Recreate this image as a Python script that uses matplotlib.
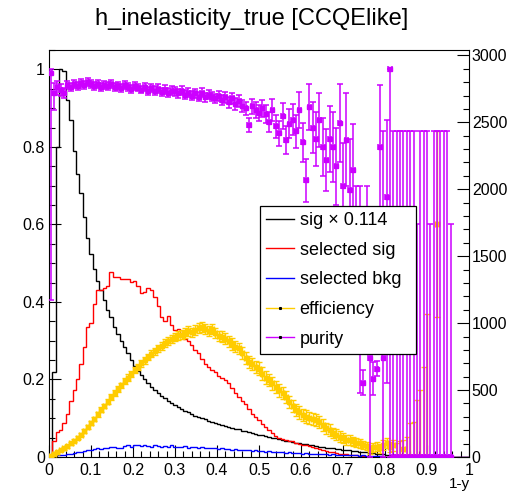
import numpy as np
import matplotlib
matplotlib.use("Agg")
import matplotlib.pyplot as plt
from matplotlib.ticker import MultipleLocator, FormatStrFormatter
from matplotlib.lines import Line2D

plt.rcParams['font.family'] = ['Liberation Sans', 'DejaVu Sans']

# 125 bins of 1-y from 0 to 1
edges = np.linspace(0.0, 1.0, 126)
centers = 0.5 * (edges[:-1] + edges[1:])
half_w = 0.5 * np.diff(edges)

# signal (scaled by 0.114), drawn on the left scale
sig = [
    0.0, 0.22, 0.80, 1.00, 0.995, 0.92, 0.87, 0.79, 0.73, 0.68,
    0.62, 0.565, 0.525, 0.485, 0.455, 0.43, 0.405, 0.38, 0.36, 0.335,
    0.318, 0.30, 0.285, 0.268, 0.25, 0.236, 0.222, 0.212, 0.20, 0.19,
    0.181, 0.173, 0.166, 0.158, 0.151, 0.145, 0.139, 0.133, 0.128, 0.124,
    0.119, 0.115, 0.111, 0.107, 0.104, 0.101, 0.097, 0.094, 0.091, 0.088,
    0.085, 0.083, 0.080, 0.078, 0.075, 0.073, 0.071, 0.068, 0.066, 0.064,
    0.062, 0.060, 0.058, 0.056, 0.054, 0.052, 0.050, 0.048, 0.046, 0.044,
    0.042, 0.040, 0.039, 0.037, 0.036, 0.034, 0.033, 0.031, 0.030, 0.028,
    0.027, 0.026, 0.024, 0.023, 0.022, 0.021, 0.020, 0.019, 0.018, 0.017,
    0.016, 0.015, 0.014, 0.013, 0.012, 0.011, 0.010, 0.009, 0.008, 0.007,
    0.005, 0.004, 0.003, 0.002, 0.002, 0.001, 0.001, 0.001, 0.001, 0.0,
    0.0, 0.0, 0.0, 0.0, 0.0, 0.0, 0.0, 0.0, 0.0, 0.0,
    0.0, 0.0, 0.0, 0.0, 0.0,
]

sel_sig = [
    0.0, 0.04, 0.065, 0.07, 0.087, 0.11, 0.145, 0.172, 0.20, 0.24,
    0.285, 0.335, 0.345, 0.395, 0.43, 0.43, 0.435, 0.44, 0.478, 0.465,
    0.465, 0.46, 0.458, 0.46, 0.452, 0.455, 0.44, 0.422, 0.425, 0.436,
    0.43, 0.413, 0.39, 0.36, 0.352, 0.365, 0.34, 0.328, 0.33, 0.318,
    0.305, 0.30, 0.288, 0.275, 0.268, 0.252, 0.24, 0.232, 0.225, 0.22,
    0.21, 0.205, 0.198, 0.19, 0.178, 0.165, 0.155, 0.145, 0.138, 0.125,
    0.112, 0.104, 0.095, 0.086, 0.078, 0.07, 0.062, 0.055, 0.05, 0.047,
    0.044, 0.042, 0.04, 0.037, 0.034, 0.031, 0.03, 0.028, 0.025, 0.022,
    0.02, 0.018, 0.016, 0.014, 0.012, 0.01, 0.009, 0.008, 0.007, 0.006,
    0.005, 0.004, 0.003, 0.002, 0.002, 0.001, 0.0, 0.0, 0.0, 0.0,
    0.0, 0.0, 0.0, 0.0, 0.0, 0.0, 0.0, 0.0, 0.0, 0.0,
    0.0, 0.0, 0.0, 0.0, 0.0, 0.0, 0.0, 0.0, 0.0, 0.0,
    0.0, 0.0, 0.0, 0.0, 0.0,
]

sel_bkg = [
    0.0, 0.002, 0.004, 0.005, 0.006, 0.008, 0.009, 0.010, 0.012, 0.013,
    0.015, 0.017, 0.019, 0.020, 0.022, 0.021, 0.024, 0.023, 0.025, 0.026,
    0.022, 0.024, 0.028, 0.030, 0.027, 0.030, 0.031, 0.029, 0.032, 0.028,
    0.027, 0.030, 0.029, 0.026, 0.028, 0.027, 0.030, 0.026, 0.027, 0.025,
    0.028, 0.024, 0.026, 0.025, 0.023, 0.025, 0.024, 0.022, 0.023, 0.024,
    0.021, 0.022, 0.020, 0.021, 0.019, 0.020, 0.018, 0.019, 0.017, 0.018,
    0.016, 0.017, 0.015, 0.016, 0.014, 0.015, 0.013, 0.014, 0.012, 0.013,
    0.011, 0.012, 0.011, 0.010, 0.011, 0.009, 0.010, 0.009, 0.008, 0.009,
    0.007, 0.008, 0.007, 0.006, 0.007, 0.006, 0.005, 0.006, 0.005, 0.004,
    0.005, 0.004, 0.003, 0.004, 0.003, 0.002, 0.003, 0.002, 0.002, 0.001,
    0.001, 0.0, 0.0, 0.0, 0.0, 0.0, 0.0, 0.0, 0.0, 0.0,
    0.0, 0.0, 0.0, 0.0, 0.0, 0.0, 0.0, 0.0, 0.0, 0.0,
    0.0, 0.0, 0.0, 0.0, 0.0,
]

nan = np.nan
eff = [
    0.003, 0.008, 0.012, 0.018, 0.022, 0.028, 0.035, 0.042, 0.05, 0.058,
    0.068, 0.078, 0.088, 0.098, 0.11, 0.122, 0.132, 0.143, 0.155, 0.165,
    0.175, 0.185, 0.196, 0.205, 0.215, 0.224, 0.233, 0.242, 0.25, 0.258,
    0.266, 0.273, 0.28, 0.287, 0.294, 0.30, 0.305, 0.31, 0.314, 0.316,
    0.32, 0.325, 0.322, 0.328, 0.332, 0.335, 0.33, 0.326, 0.33, 0.32,
    0.312, 0.31, 0.305, 0.298, 0.292, 0.285, 0.28, 0.268, 0.255, 0.245,
    0.24, 0.232, 0.228, 0.215, 0.205, 0.198, 0.19, 0.18, 0.172, 0.165,
    0.155, 0.142, 0.132, 0.122, 0.115, 0.108, 0.104, 0.10, 0.098, 0.095,
    0.09, 0.082, 0.074, 0.07, 0.062, 0.057, 0.052, 0.048, 0.045, 0.043,
    0.04, 0.037, 0.035, 0.031, 0.028, 0.018, 0.025, 0.027, 0.022, 0.03,
    0.036, 0.025, 0.03, 0.0, 0.0, 0.02, 0.0, 0.0, 0.0, 0.0,
    0.0, 0.0, 0.0, nan, nan, 0.6, nan, nan, nan, nan,
    nan, nan, nan, nan, nan,
]
eff_err = [
    0.003, 0.003, 0.003, 0.003, 0.003, 0.004, 0.004, 0.004, 0.004, 0.005,
    0.005, 0.005, 0.005, 0.006, 0.006, 0.006, 0.006, 0.007, 0.007, 0.007,
    0.007, 0.007, 0.008, 0.008, 0.008, 0.008, 0.008, 0.009, 0.009, 0.009,
    0.009, 0.009, 0.01, 0.01, 0.01, 0.01, 0.011, 0.011, 0.011, 0.011,
    0.012, 0.012, 0.012, 0.012, 0.013, 0.013, 0.013, 0.013, 0.013, 0.014,
    0.014, 0.014, 0.014, 0.014, 0.015, 0.015, 0.015, 0.015, 0.015, 0.015,
    0.015, 0.015, 0.016, 0.016, 0.016, 0.016, 0.016, 0.016, 0.016, 0.016,
    0.016, 0.016, 0.016, 0.016, 0.016, 0.016, 0.016, 0.016, 0.016, 0.016,
    0.015, 0.015, 0.015, 0.015, 0.014, 0.014, 0.014, 0.013, 0.013, 0.013,
    0.012, 0.012, 0.012, 0.011, 0.011, 0.01, 0.011, 0.012, 0.012, 0.013,
    0.013, 0.013, 0.015, 0.036, 0.04, 0.025, 0.052, 0.087, 0.09, 0.147,
    0.173, 0.233, 0.37, nan, nan, 0.24, nan, nan, nan, nan,
    nan, nan, nan, nan, nan,
]

purity = [
    0.99, 0.94, 0.955, 0.947, 0.94, 0.96, 0.955, 0.962, 0.958, 0.965,
    0.96, 0.968, 0.963, 0.958, 0.962, 0.955, 0.96, 0.957, 0.963, 0.955,
    0.958, 0.952, 0.96, 0.955, 0.95, 0.958, 0.953, 0.948, 0.955, 0.945,
    0.952, 0.945, 0.95, 0.942, 0.948, 0.94, 0.945, 0.943, 0.938, 0.945,
    0.935, 0.94, 0.932, 0.938, 0.93, 0.94, 0.928, 0.935, 0.93, 0.925,
    0.932, 0.922, 0.928, 0.915, 0.925, 0.91, 0.918, 0.905, 0.90, 0.857,
    0.905, 0.895, 0.888, 0.90, 0.885, 0.865, 0.895, 0.853, 0.835, 0.88,
    0.818, 0.86, 0.87, 0.84, 0.895, 0.812, 0.714, 0.903, 0.85, 0.82,
    0.87, 0.80, 0.766, 0.82, 0.80, 0.75, 0.862, 0.70, 0.818, 0.69,
    0.74, 0.60, 0.43, 0.19, 0.50, 0.255, 0.20, 0.228, 0.80, 0.255,
    0.67, 1.0, 0.0, 0.0, 0.0, 0.0, 0.0, 0.0, 0.0, 0.0,
    0.0, 0.0, 0.0, 0.0, 0.0, 0.0, 0.0, 0.0, 0.0, 0.0,
    nan, nan, nan, nan, nan,
]
purity_err_lo = [
    0.585, 0.045, 0.02, 0.015, 0.015, 0.01, 0.01, 0.01, 0.01, 0.01,
    0.01, 0.01, 0.01, 0.01, 0.01, 0.01, 0.01, 0.01, 0.01, 0.01,
    0.01, 0.01, 0.01, 0.01, 0.01, 0.01, 0.01, 0.01, 0.01, 0.01,
    0.011, 0.011, 0.011, 0.011, 0.011, 0.011, 0.011, 0.011, 0.011, 0.011,
    0.012, 0.012, 0.012, 0.012, 0.012, 0.012, 0.012, 0.012, 0.012, 0.012,
    0.013, 0.013, 0.014, 0.014, 0.015, 0.015, 0.016, 0.016, 0.017, 0.018,
    0.019, 0.02, 0.021, 0.022, 0.024, 0.026, 0.028, 0.03, 0.032, 0.034,
    0.036, 0.038, 0.04, 0.043, 0.046, 0.05, 0.055, 0.06, 0.065, 0.07,
    0.07, 0.075, 0.08, 0.085, 0.09, 0.1, 0.1, 0.11, 0.12, 0.13,
    0.12, 0.1, 0.265, 0.03, 0.15, 0.255, 0.04, 0.02, 0.155, 0.255,
    0.48, 1.0, 0.0, 0.0, 0.0, 0.0, 0.0, 0.0, 0.0, 0.0,
    0.0, 0.0, 0.0, 0.0, 0.0, 0.0, 0.0, 0.0, 0.0, 0.0,
    nan, nan, nan, nan, nan,
]
purity_err_hi = [
    0.01, 0.025, 0.015, 0.015, 0.012, 0.01, 0.01, 0.01, 0.01, 0.01,
    0.01, 0.01, 0.01, 0.01, 0.01, 0.01, 0.01, 0.01, 0.01, 0.01,
    0.01, 0.01, 0.01, 0.01, 0.01, 0.01, 0.01, 0.01, 0.01, 0.01,
    0.011, 0.011, 0.011, 0.011, 0.011, 0.011, 0.011, 0.011, 0.011, 0.011,
    0.012, 0.012, 0.012, 0.012, 0.012, 0.012, 0.012, 0.012, 0.012, 0.012,
    0.013, 0.013, 0.014, 0.014, 0.015, 0.015, 0.016, 0.016, 0.017, 0.018,
    0.019, 0.02, 0.021, 0.022, 0.024, 0.026, 0.028, 0.03, 0.032, 0.034,
    0.036, 0.038, 0.04, 0.043, 0.046, 0.05, 0.055, 0.06, 0.065, 0.07,
    0.07, 0.075, 0.08, 0.085, 0.09, 0.1, 0.1, 0.11, 0.12, 0.13,
    0.12, 0.1, 0.27, 0.035, 0.2, 0.3, 0.045, 0.02, 0.16, 0.585,
    0.2, 0.0, 0.842, 0.842, 0.842, 0.842, 0.842, 0.842, 0.842, 0.6,
    0.842, 0.842, 0.842, 0.6, 0.842, 0.842, 0.842, 0.842, 0.842, 0.6,
    nan, nan, nan, nan, nan,
]

right_ticks = [0, 500, 1000, 1500, 2000, 2500, 3000]

EFF_COL = '#ffcc00'
PUR_COL = '#cc00ff'

fig = plt.figure(figsize=(5.13, 4.92), dpi=100)
ax = fig.add_axes([49 / 513, 35 / 492, 420 / 513, 407 / 492])

ax.stairs(sig, edges, color='black', lw=1.0, zorder=2)
ax.stairs(sel_sig, edges, color='red', lw=1.0, zorder=2)
ax.stairs(sel_bkg, edges, color='blue', lw=1.0, zorder=2)

eff_a = np.array(eff)
eff_e = np.array(eff_err)
ax.errorbar(centers, eff_a, xerr=half_w, yerr=[np.minimum(eff_e, eff_a), eff_e],
            fmt='s', ms=2.5, color=EFF_COL, ecolor=EFF_COL, elinewidth=1.0,
            capsize=2, capthick=1.0, zorder=3)
ax.errorbar(centers, purity, xerr=half_w, yerr=[purity_err_lo, purity_err_hi],
            fmt='s', ms=3, color=PUR_COL, ecolor=PUR_COL, elinewidth=1.1,
            capsize=2.5, capthick=1.1, zorder=4)

ax.set_xlim(0, 1)
ax.set_ylim(0, 1.05)
ax.xaxis.set_major_locator(MultipleLocator(0.1))
ax.xaxis.set_minor_locator(MultipleLocator(0.02))
ax.yaxis.set_major_locator(MultipleLocator(0.2))
ax.yaxis.set_minor_locator(MultipleLocator(0.05))
ax.xaxis.set_major_formatter(FormatStrFormatter('%g'))
ax.yaxis.set_major_formatter(FormatStrFormatter('%g'))
ax.tick_params(which='both', direction='in', top=False, right=False, labelsize=11.5)
ax.tick_params(which='major', length=8.6, width=0.8)
ax.tick_params(which='minor', length=4.3, width=0.8)
ax.tick_params(axis='x', pad=4)
ax.tick_params(axis='y', pad=3)
for s in ax.spines.values():
    s.set_linewidth(0.8)

ax2 = ax.twinx()
ax2.set_ylim(0, 3040)
ax2.set_yticks(right_ticks)
ax2.yaxis.set_minor_locator(MultipleLocator(100))
ax2.tick_params(which='both', direction='in', labelsize=11.5, pad=2)
ax2.tick_params(which='major', length=8.6, width=0.8)
ax2.tick_params(which='minor', length=4.3, width=0.8)
for s in ax2.spines.values():
    s.set_visible(False)

fig.text(0.49, 0.962, 'h_inelasticity_true [CCQElike]', ha='center', va='center', fontsize=17)
fig.text(470 / 513, 8 / 492, '1-y', ha='right', va='center', fontsize=11)

handles = [
    Line2D([], [], color='black', lw=1),
    Line2D([], [], color='red', lw=1),
    Line2D([], [], color='blue', lw=1),
    Line2D([], [], color=EFF_COL, lw=1, marker='s', ms=1.2, mfc='black', mec='black'),
    Line2D([], [], color=PUR_COL, lw=1, marker='s', ms=1.2, mfc='black', mec='black'),
]
labels = ['sig \u00d7 0.114', 'selected sig', 'selected bkg', 'efficiency', 'purity']
leg = ax.legend(handles, labels, loc='lower left', bbox_to_anchor=(0.502, 0.253, 0.372, 0.376),
                mode='expand', fontsize=13, frameon=True, fancybox=False, shadow=False,
                framealpha=1.0, edgecolor='black', borderpad=0.35, labelspacing=0.7,
                handlelength=1.55, handletextpad=0.3, borderaxespad=0.0)
leg.get_frame().set_linewidth(0.9)
leg.set_zorder(10)
ax.set_zorder(ax2.get_zorder() + 1)
ax.patch.set_visible(False)

fig.savefig('out.png', dpi=100)
